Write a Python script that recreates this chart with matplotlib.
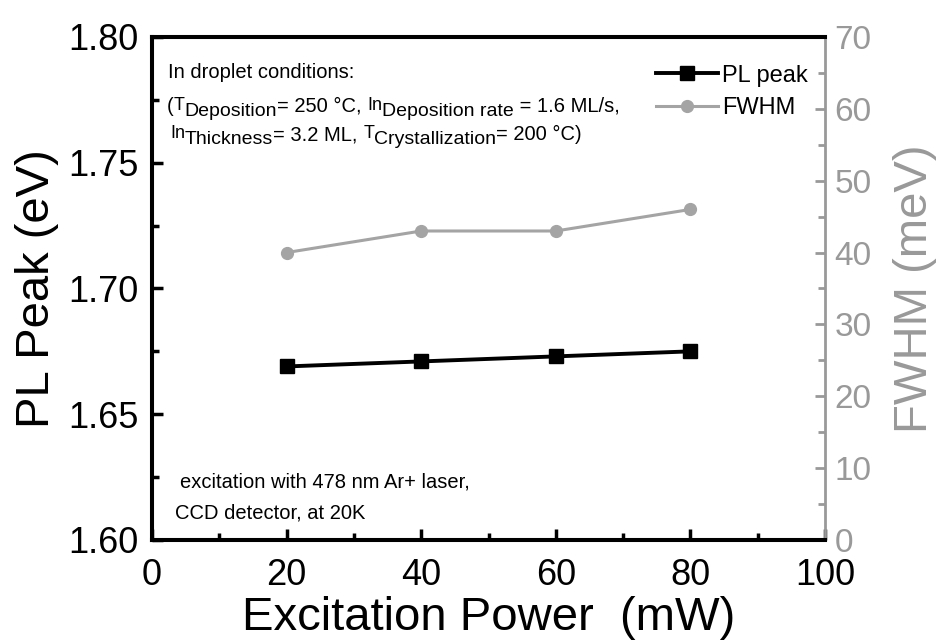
import matplotlib
matplotlib.use('Agg')
import matplotlib.pyplot as plt
import matplotlib.transforms as mtransforms
from matplotlib.ticker import MultipleLocator, FormatStrFormatter

plt.rcParams['font.family'] = ['Liberation Sans', 'DejaVu Sans']

power = [20, 40, 60, 80]
pl_peak = [1.669, 1.671, 1.673, 1.675]
fwhm = [40, 43, 43, 46]

gray = '#999999'
gray_line = '#a4a4a4'

fig = plt.figure(figsize=(9.39, 6.43), dpi=100)
ax = fig.add_axes([0.1619, 0.1602, 0.7167, 0.7823])
ax2 = ax.twinx()

ax.plot(power, pl_peak, color='black', lw=2.8, marker='s', ms=9.5, label='PL peak')
ax2.plot(power, fwhm, color=gray_line, lw=2.2, marker='o', ms=8.5, label='FWHM')

ax.set_xlim(0, 100)
ax.set_ylim(1.60, 1.80)
ax2.set_ylim(0, 70)

ax.xaxis.set_major_locator(MultipleLocator(20))
ax.xaxis.set_minor_locator(MultipleLocator(10))
ax.yaxis.set_major_locator(MultipleLocator(0.05))
ax.yaxis.set_minor_locator(MultipleLocator(0.025))
ax.yaxis.set_major_formatter(FormatStrFormatter('%.2f'))
ax2.yaxis.set_major_locator(MultipleLocator(10))
ax2.yaxis.set_minor_locator(MultipleLocator(5))

ax.tick_params(which='both', direction='in', labelsize=26, width=2.5, top=False, right=False)
ax.tick_params(which='major', length=8)
ax.tick_params(which='minor', length=5)
ax.tick_params(axis='y', pad=10)
ax.tick_params(axis='x', pad=13)
ax2.tick_params(which='both', direction='in', labelsize=24, width=2, colors=gray)
ax2.tick_params(which='major', length=7, pad=7)
ax2.tick_params(which='minor', length=5)

for s in ['left', 'bottom', 'top']:
    ax.spines[s].set_linewidth(2.9)
    ax2.spines[s].set_linewidth(2.9)
ax2.spines['right'].set_color(gray)
ax2.spines['right'].set_linewidth(2)
ax.spines['right'].set_visible(False)

ax.set_xlabel('Excitation Power  (mW)', fontsize=34, labelpad=2)
ax.set_ylabel('PL Peak (eV)', fontsize=34, labelpad=6)
ax2.set_ylabel('FWHM (meV)', fontsize=34, color=gray, labelpad=15)

renderer = fig.canvas.get_renderer()


def rich_text(x, y, parts):
    # draw pieces one after another, each with its own size and vertical shift
    dx = 0
    for s, size, dy in parts:
        tr = mtransforms.offset_copy(ax.transAxes, fig=fig, x=dx, y=dy, units='dots')
        t = ax.text(x, y, s, transform=tr, fontsize=size, va='baseline', ha='left')
        dx += t.get_window_extent(renderer).width


fs = 14.5
fm = 13
fsub = 14
ax.text(0.0238, 0.9185, 'In droplet conditions:', transform=ax.transAxes,
        fontsize=fs, va='baseline', ha='left')
rich_text(0.0223, 0.851, [('(', fs, 0), ('T', fm, 2), ('Deposition', fsub, -4),
                          ('= 250 °C, ', fs, 0), ('In', fm, 2),
                          ('Deposition rate', fsub, -4), (' = 1.6 ML/s,', fs, 0)])
rich_text(0.0267, 0.795, [('In', fm, 2), ('Thickness', fsub, -4),
                          ('= 3.2 ML, ', fs, 0), ('T', fm, 2),
                          ('Crystallization', fsub, -4), ('= 200 °C)', fs, 0)])
ax.text(0.0416, 0.105, 'excitation with 478 nm Ar+ laser,', transform=ax.transAxes,
        fontsize=fs, va='baseline', ha='left')
ax.text(0.0342, 0.0437, 'CCD detector, at 20K', transform=ax.transAxes,
        fontsize=fs, va='baseline', ha='left')

h1, l1 = ax.get_legend_handles_labels()
h2, l2 = ax2.get_legend_handles_labels()
leg = ax2.legend(h1 + h2, l1 + l2, loc='upper right', bbox_to_anchor=(0.975, 0.945),
                 frameon=False, fontsize=17, handlelength=2.6, handletextpad=0.2,
                 labelspacing=0.43, borderaxespad=0, borderpad=0)

fig.savefig('out.png', dpi=100)
